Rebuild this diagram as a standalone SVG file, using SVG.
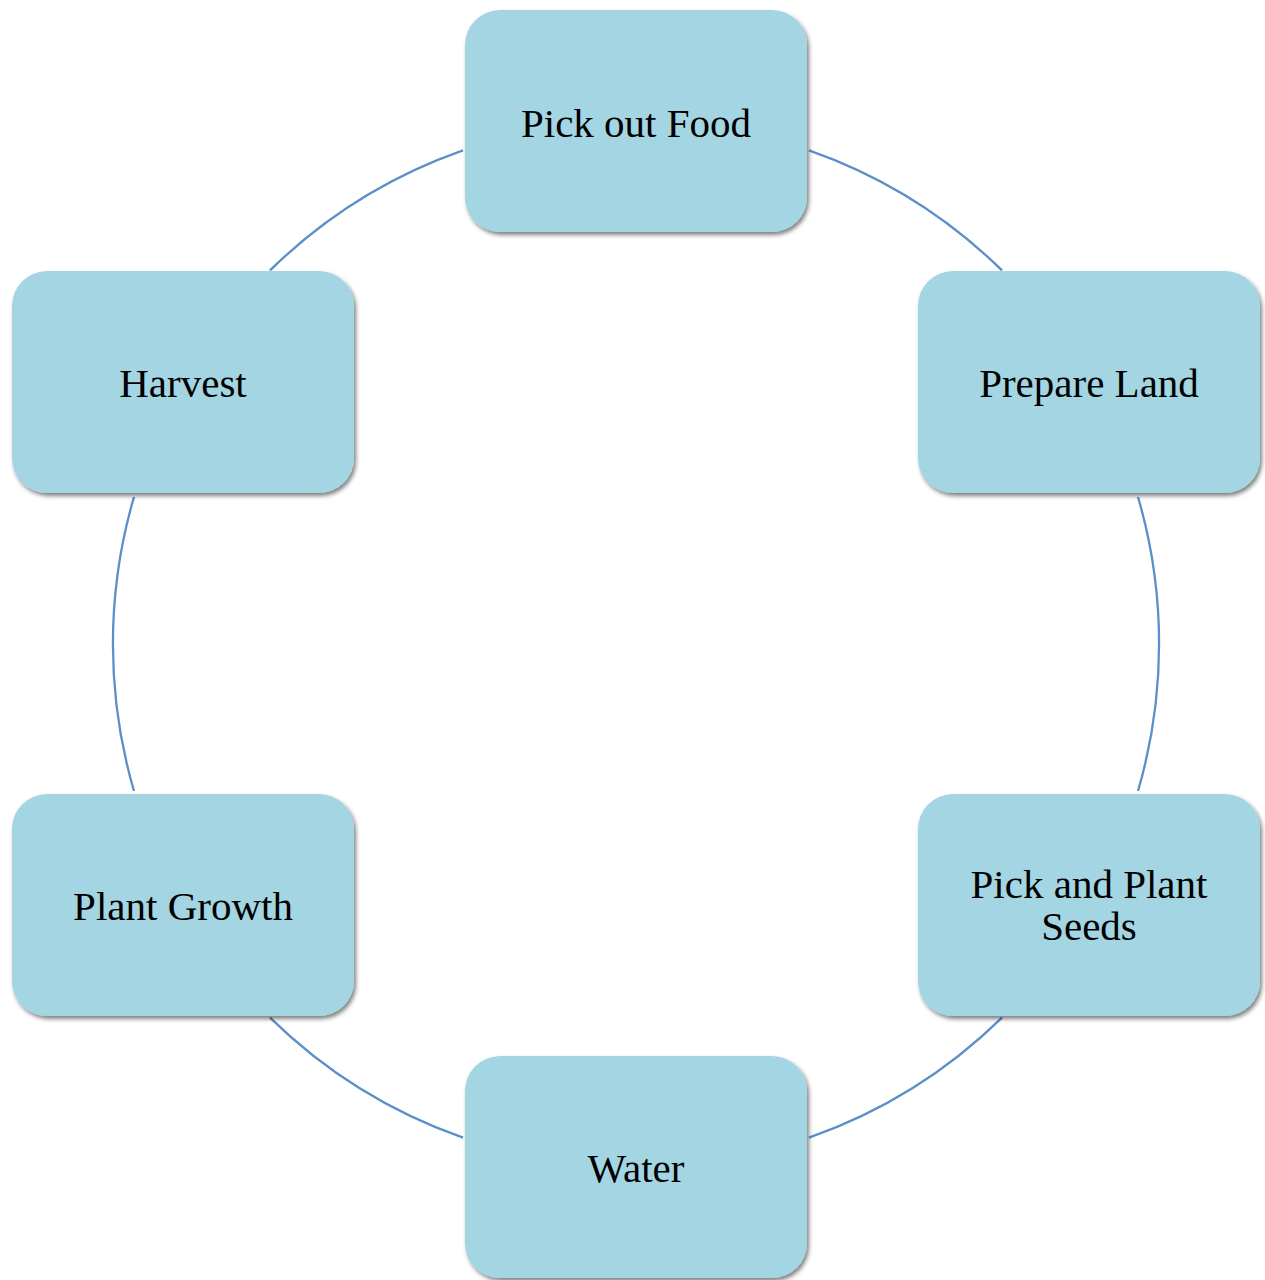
<svg xmlns="http://www.w3.org/2000/svg" width="1265" height="1280" viewBox="0 0 1265 1280">
<defs>
<filter id="sh" x="-10%" y="-10%" width="125%" height="130%">
<feDropShadow dx="2" dy="3" stdDeviation="2.2" flood-color="#000" flood-opacity="0.5"/>
</filter>
</defs>
<style>
.box{fill:#a3d5e2;filter:url(#sh);}
.lbl{font-family:"Liberation Serif","Times New Roman",serif;font-size:41px;fill:#000;text-anchor:middle;}
.arc{fill:none;stroke:#5b8fc9;stroke-width:2.3;}
</style>
<rect width="1265" height="1280" fill="#fff"/>
<g id="connectors">
<path class="arc" d="M 809 150.4 A 523 523 0 0 1 1002 270.4"/>
<path class="arc" d="M 1138 497 A 523 523 0 0 1 1138 791"/>
<path class="arc" d="M 1002 1017.6 A 523 523 0 0 1 809 1137.6"/>
<path class="arc" d="M 463 1137.6 A 523 523 0 0 1 270 1017.6"/>
<path class="arc" d="M 134 791 A 523 523 0 0 1 134 497"/>
<path class="arc" d="M 270 270.4 A 523 523 0 0 1 463 150.4"/>
</g>
<g id="node-pick-out-food">
<rect class="box" x="465" y="10" width="342" height="222" rx="35"/>
<text class="lbl" x="636" y="137">Pick out Food</text>
</g>
<g id="node-prepare-land">
<rect class="box" x="918" y="271" width="342" height="222" rx="35"/>
<text class="lbl" x="1089" y="397">Prepare Land</text>
</g>
<g id="node-pick-and-plant-seeds">
<rect class="box" x="918" y="794" width="342" height="222" rx="35"/>
<text class="lbl" x="1089" y="898">Pick and Plant</text>
<text class="lbl" x="1089" y="940">Seeds</text>
</g>
<g id="node-water">
<rect class="box" x="465" y="1056" width="342" height="222" rx="35"/>
<text class="lbl" x="636" y="1182">Water</text>
</g>
<g id="node-plant-growth">
<rect class="box" x="12" y="794" width="342" height="222" rx="35"/>
<text class="lbl" x="183" y="920">Plant Growth</text>
</g>
<g id="node-harvest">
<rect class="box" x="12" y="271" width="342" height="222" rx="35"/>
<text class="lbl" x="183" y="397">Harvest</text>
</g>
</svg>
